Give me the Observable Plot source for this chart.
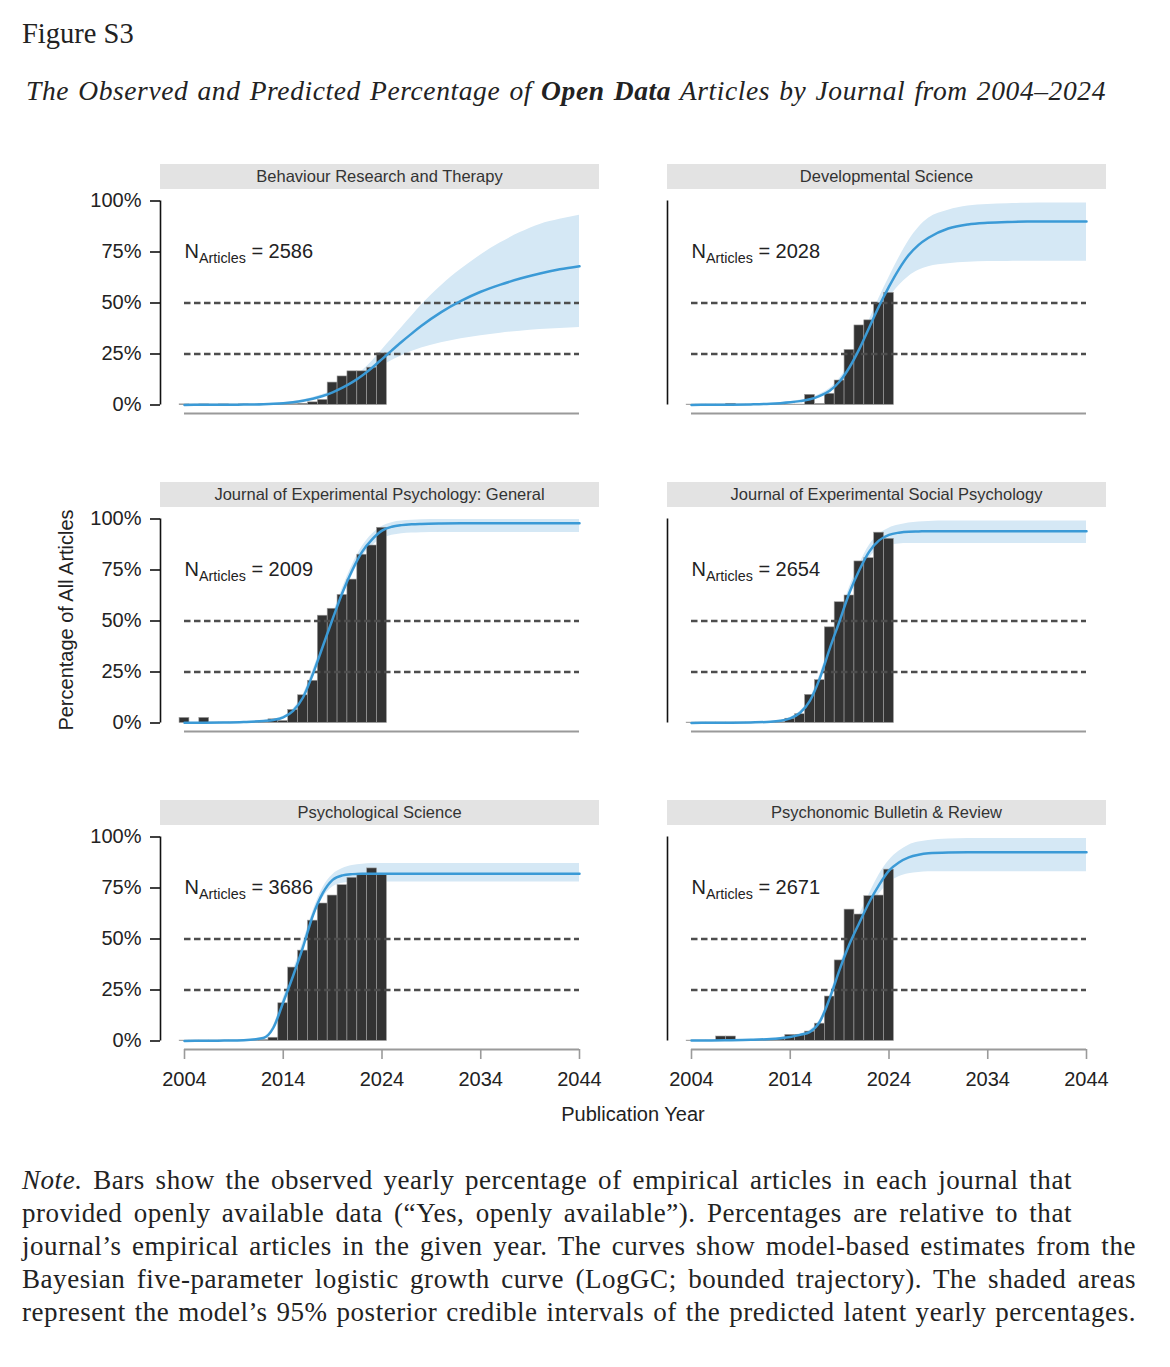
<!DOCTYPE html>
<html>
<head>
<meta charset="utf-8">
<script src="https://cdn.jsdelivr.net/npm/d3@7"></script>
<script src="https://cdn.jsdelivr.net/npm/@observablehq/plot@0.6"></script>
<style>
  html, body { margin: 0; padding: 0; background: #fff; }
  #page { position: relative; width: 1170px; height: 1367px; overflow: hidden; background: #fff; color: #222; }
  .serif { font-family: "Liberation Serif", "DejaVu Serif", serif; }
  #fig { position: absolute; left: 22px; top: 20px; font-size: 28.5px; line-height: 1; white-space: nowrap; }
  #sub { position: absolute; left: 26px; top: 77px; width: 1080px; font-size: 27.5px; line-height: 1; font-style: italic;
         letter-spacing: 0.6px; text-align: justify; text-align-last: justify; white-space: nowrap; }
  .panel { position: absolute; }
  .strip { position: absolute; height: 25px; background: #e3e3e3; color: #333; text-align: center;
           font: 16.5px "Liberation Sans", Arial, sans-serif; line-height: 25px; white-space: nowrap; }
  .lab { position: absolute; font: 20px "Liberation Sans", Arial, sans-serif; color: #222; white-space: nowrap; }
  .note { position: absolute; left: 22px; font-size: 27px; letter-spacing: 0.55px; line-height: 33px; height: 33px; text-align: justify;
          text-align-last: justify; white-space: nowrap; color: #222; }
</style>
</head>
<body>
<div id="page">
  <div id="fig" class="serif">Figure S3</div>
  <div id="sub" class="serif">The Observed and Predicted Percentage of <b>Open Data</b> Articles by Journal from 2004–2024</div>
</div>
<script>
// ---------------- DATA ----------------
const years = [2004,2005,2006,2007,2008,2009,2010,2011,2012,2013,2014,2015,2016,2017,2018,2019,2020,2021,2022,2023,2024];
const curveYears = [2004,2006,2008,2010,2012,2013,2014,2015,2016,2017,2018,2019,2020,2021,2022,2023,2024,2025,2026,2027,2028,2030,2032,2034,2036,2038,2040,2042,2044];

const journals = [
  "Behaviour Research and Therapy",
  "Developmental Science",
  "Journal of Experimental Psychology: General",
  "Journal of Experimental Social Psychology",
  "Psychological Science",
  "Psychonomic Bulletin & Review"
];
const nArticles = [2586, 2028, 2009, 2654, 3686, 2671];

// observed yearly % of open-data articles (2004..2024)
const obsBRT  = [0.3,0.2,0.3,0.2,0.3,0.2,0.3,0.2,0.3,0.3,0.3,0.4,0.6,1.3,2.5,11,14,16.5,16.5,18.3,25.3];
const obsDS   = [0.2,0.2,0.2,0.2,0.6,0.2,0.2,0.2,0.2,0.2,0.2,0.2,5,0.5,5.5,12,27,39,41.5,50,55];
const obsJEPG = [2.5,0,2.5,0.2,0.2,0.2,0.2,0.2,0.3,1.8,1,6.4,13.6,20.7,52.6,56,62.8,70.3,82.5,87,95.7];
const obsJESP = [0.2,0.2,0.2,0.2,0.2,0.2,0.2,0.2,0.2,0.4,2.1,4.3,13.8,21,46.9,59.2,62.5,79.2,80.8,93.3,90.3];
const obsPS   = [0.2,0.2,0.2,0.2,0.2,0.2,0.2,0.2,0.5,1.6,18.5,36,44.3,59,67.4,71.3,76.4,80,82,84.6,81.6];
const obsPBR  = [0.2,0.2,0.2,2.2,2.2,0.3,0.3,0.3,0.3,0.8,3,3,4.6,8.5,21.8,39.5,64.4,62,71,71.3,84];

// model-based estimates (mean, 95% CrI low / high) at curveYears
const meanBRT  = [0.05,0.08,0.12,0.2,0.4,0.6,0.9,1.4,2.1,3.1,4.4,6.2,8.5,11.2,14.5,18.3,22.5,26.8,31,35,38.8,45.5,51,55.5,59,62,64.5,66.5,68];
const lowBRT   = [0.03,0.05,0.09,0.15,0.3,0.45,0.7,1.1,1.7,2.6,3.8,5.4,7.4,9.8,12.5,15.8,19,21.8,24.2,26.2,27.9,30.5,32.5,34,35.2,36.2,37,37.5,38];
const highBRT  = [0.08,0.12,0.17,0.27,0.52,0.78,1.15,1.75,2.6,3.7,5.1,7.1,9.7,13,16.8,21.5,27,32.5,38,43.5,49,58.5,66.5,73.5,79.5,84.5,88.5,91,93];

const meanDS   = [0.05,0.1,0.15,0.3,0.6,0.9,1.3,1.9,2.8,4.5,7,11.5,18.5,27.5,38,48.5,58,66.5,73.5,78.5,82,86.5,88.5,89.3,89.7,89.9,90,90,90];
const lowDS    = [0.03,0.07,0.1,0.22,0.45,0.7,1,1.5,2.3,3.8,6,10,16.5,25,34.5,44.5,52.5,58.5,63,66,67.8,69.3,70,70.3,70.4,70.5,70.5,70.5,70.5];
const highDS   = [0.07,0.13,0.2,0.4,0.75,1.1,1.6,2.4,3.4,5.3,8.1,13,20.5,30,41.5,52.5,62.5,72,80.5,87,91.5,95.5,97.5,98.3,98.7,98.9,99,99,99];

const meanJEPG = [0.1,0.15,0.25,0.5,1,1.5,2.8,6,12.5,24,37.5,51,64,75,84,90,94.3,96.2,97,97.4,97.6,97.8,97.9,97.9,97.9,97.9,97.9,97.9,97.9];
const lowJEPG  = [0.07,0.1,0.18,0.38,0.8,1.2,2.3,5.2,11.3,22.3,35.5,49,61.8,72.5,81.5,86.8,90.3,92,92.8,93.1,93.3,93.4,93.4,93.4,93.4,93.4,93.4,93.4,93.4];
const highJEPG = [0.13,0.2,0.33,0.63,1.25,1.85,3.3,6.9,13.8,25.8,39.5,53,66.2,77.5,86.5,92.5,96.3,98.2,99,99.4,99.6,99.8,99.8,99.8,99.8,99.8,99.8,99.8,99.8];

const meanJESP = [0.05,0.08,0.15,0.3,0.6,1.1,2.3,5,11,22,36.5,50,64,75,84,89.5,92.2,93.3,93.8,93.9,94,94,94,94,94,94,94,94,94];
const lowJESP  = [0.03,0.05,0.1,0.22,0.45,0.85,1.9,4.3,9.8,20.3,34.5,47.8,61.5,72.3,80.8,85.5,87.2,87.8,88,88,88,88,88,88,88,88,88,88,88];
const highJESP = [0.07,0.11,0.2,0.38,0.75,1.35,2.7,5.7,12.2,23.7,38.5,52.2,66.5,77.7,87,92.5,95.5,97,98,98.5,98.8,99,99,99,99,99,99,99,99];

const meanPS   = [0.05,0.1,0.2,0.4,1.5,6.5,19,32,46,61.5,72.5,79,81.2,81.8,82,82,82,82,82,82,82,82,82,82,82,82,82,82,82];
const lowPS    = [0.03,0.07,0.15,0.3,1.1,5.5,17,29.5,43.5,59.5,70,75.5,77.3,77.8,78,78,78,78,78,78,78,78,78,78,78,78,78,78,78];
const highPS   = [0.07,0.13,0.25,0.5,1.9,7.5,21,34.5,48.5,63.5,75,81.5,84.5,86,86.7,87,87,87,87,87,87,87,87,87,87,87,87,87,87];

const meanPBR  = [0.2,0.3,0.4,0.6,1,1.4,2,3,4.5,9.5,21,35,47.5,58,68,76.5,83.5,87.5,90,91.3,92,92.4,92.5,92.5,92.5,92.5,92.5,92.5,92.5];
const lowPBR   = [0.15,0.22,0.3,0.45,0.8,1.1,1.6,2.5,3.8,8.5,19.5,33,45,54.5,64,72,77.5,80.5,82,82.6,83,83,83,83,83,83,83,83,83];
const highPBR  = [0.25,0.38,0.5,0.75,1.2,1.7,2.4,3.5,5.3,10.5,22.5,37,50,61.5,72,81.5,88.5,93,96,97.5,98.3,99,99.3,99.3,99.3,99.3,99.3,99.3,99.3];

const yTicks = [0, 25, 50, 75, 100];
const xTicks = [2004, 2014, 2024, 2034, 2044];
const refLines = [25, 50];

const noteLines = [
  ["<i>Note.</i> Bars show the observed yearly percentage of empirical articles in each journal that", 1050],
  ["provided openly available data (“Yes, openly available”). Percentages are relative to that", 1050],
  ["journal’s empirical articles in the given year. The curves show model-based estimates from the", 1114],
  ["Bayesian five-parameter logistic growth curve (LogGC; bounded trajectory). The shaded areas", 1114],
  ["represent the model’s 95% posterior credible intervals of the predicted latent yearly percentages.", 1114]
];

// ---------------- LAYOUT ----------------
const observed = [obsBRT, obsDS, obsJEPG, obsJESP, obsPS, obsPBR];
const means = [meanBRT, meanDS, meanJEPG, meanJESP, meanPS, meanPBR];
const lows  = [lowBRT, lowDS, lowJEPG, lowJESP, lowPS, lowPBR];
const highs = [highBRT, highDS, highJEPG, highJESP, highPS, highPBR];

const page = document.getElementById("page");
const rowTops = [164, 482, 800];
const colLefts = [0, 507];
const W = 620, H = 300, ML = 160, MR = 21, MT = 25, MB = 51;
const xRange = [184, 579];
const yRange = [240.5, 36.5];
const pxPerYear = (xRange[1] - xRange[0]) / (xTicks[4] - xTicks[0]);
const axisYear = xTicks[0] - (xRange[0] - ML) / pxPerYear;  // year at frame left edge
const blue = "#3b9ad6";
const ns = "http://www.w3.org/2000/svg";

journals.forEach((name, i) => {
  const row = Math.floor(i / 2), col = i % 2;
  const bars = years.map((yr, k) => ({year: yr, value: observed[i][k]}));
  const curve = curveYears.map((yr, k) => ({year: yr, mean: means[i][k], low: lows[i][k], high: highs[i][k]}));

  const marks = [
    Plot.areaY(curve, {x: "year", y1: "low", y2: "high", fill: "#d5e8f5", curve: "monotone-x"}),
    Plot.rectY(bars.filter(d => d.value > 0), {x1: d => d.year - 0.5, x2: d => d.year + 0.5, y1: 0, y2: "value",
      fill: "#333", stroke: "#a0a0a0", strokeWidth: 0.6}),
    Plot.ruleY(refLines, {x1: xTicks[0], x2: xTicks[4], stroke: "#4d4d4d", strokeWidth: 2.6, strokeDasharray: "6.5,3.5"}),
    Plot.line(curve, {x: "year", y: "mean", stroke: blue, strokeWidth: 2.5, curve: "monotone-x"}),
    Plot.ruleY([0], {x1: xTicks[0], x2: xTicks[4], dy: 8.5, stroke: "#9a9a9a", strokeWidth: 1.8}),
    Plot.ruleX([axisYear], {y1: 0, y2: 100, stroke: "#111", strokeWidth: 1.6}),
    Plot.text([nArticles[i]], {x: xTicks[0], y: 75, text: () => "N", textAnchor: "start", fontSize: 20, fill: "#222"})
  ];
  if (col === 0) {
    marks.push(Plot.axisY({ticks: yTicks, tickFormat: d => d + "%", tickSize: 10, tickPadding: 9, label: null,
      fontSize: 20, strokeWidth: 1.6, stroke: "#111", fill: "#222"}));
  }
  if (row === 2) {
    marks.push(Plot.axisX({ticks: xTicks, tickFormat: d => String(d), tickSize: 10, tickPadding: 12, label: null,
      fontSize: 20, stroke: "#9a9a9a", strokeWidth: 1.6, fill: "#222"}));
  }

  const svg = Plot.plot({
    width: W, height: H,
    marginLeft: ML, marginRight: MR, marginTop: MT, marginBottom: MB,
    x: {domain: [xTicks[0], xTicks[4]], range: xRange, axis: null},
    y: {domain: [yTicks[0], yTicks[4]], range: yRange, axis: null},
    style: {fontFamily: '"Liberation Sans", Arial, sans-serif', fontSize: "20px", color: "#222", background: "transparent", overflow: "visible"},
    marks
  });

  // subscript in the N label
  const t = svg.querySelector('g[aria-label="text"] text');
  if (t) {
    t.textContent = "";
    const add = (s, attrs) => {
      const e = document.createElementNS(ns, "tspan");
      e.textContent = s;
      for (const k in attrs) e.setAttribute(k, attrs[k]);
      t.appendChild(e);
    };
    add("N", {});
    add("Articles", {"font-size": 14.3, dy: 5});
    add(" = " + nArticles[i], {"font-size": 20, dy: -5});
  }

  const wrap = document.createElement("div");
  wrap.className = "panel";
  wrap.style.left = colLefts[col] + "px";
  wrap.style.top = rowTops[row] + "px";
  wrap.appendChild(svg);
  page.appendChild(wrap);

  const strip = document.createElement("div");
  strip.className = "strip";
  strip.style.left = (colLefts[col] + ML) + "px";
  strip.style.width = (W - ML - MR) + "px";
  strip.style.top = rowTops[row] + "px";
  strip.textContent = name;
  page.appendChild(strip);
});

// axis titles
const ylab = document.createElement("div");
ylab.className = "lab";
ylab.textContent = "Percentage of All Articles";
ylab.style.left = "66px"; ylab.style.top = "620px";
ylab.style.transform = "translate(-50%, -50%) rotate(-90deg)";
page.appendChild(ylab);

const xlab = document.createElement("div");
xlab.className = "lab";
xlab.textContent = "Publication Year";
xlab.style.left = "633px"; xlab.style.top = "1114px";
xlab.style.transform = "translate(-50%, -50%)";
page.appendChild(xlab);

// note
noteLines.forEach(([html, w], k) => {
  const d = document.createElement("div");
  d.className = "note serif";
  d.style.top = (1164 + k * 33) + "px";
  d.style.width = w + "px";
  d.innerHTML = html;
  page.appendChild(d);
});
</script>
</body>
</html>
